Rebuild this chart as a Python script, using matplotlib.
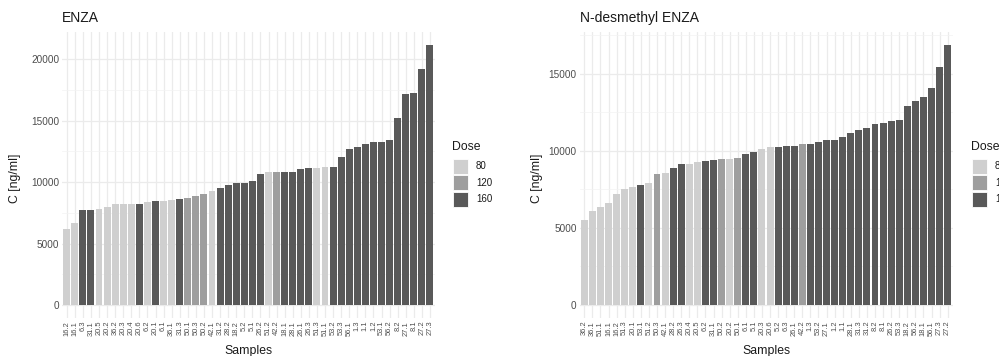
import matplotlib
matplotlib.use("Agg")
import matplotlib.pyplot as plt
from matplotlib.patches import Rectangle

plt.rcParams["font.family"] = ["Liberation Sans", "DejaVu Sans"]

# ---- data -------------------------------------------------------------
enza_samples = ["16.2", "16.1", "6.3", "31.1", "20.5", "20.2", "36.2", "20.3", "20.4", "20.6",
                "6.2", "20.1", "6.1", "36.1", "31.3", "50.1", "50.3", "50.2", "42.1", "31.2",
                "28.2", "18.2", "5.2", "5.1", "26.2", "51.2", "42.2", "18.1", "28.1", "26.1",
                "26.3", "51.3", "51.1", "53.2", "53.3", "56.1", "1.3", "1.1", "1.2", "53.1",
                "56.2", "8.2", "27.1", "8.1", "27.2", "27.3"]
enza_values = [6150, 6640, 7720, 7720, 7800, 7940, 8210, 8210, 8230, 8250,
               8400, 8450, 8480, 8540, 8590, 8720, 8860, 9020, 9270, 9480,
               9750, 9940, 9940, 10070, 10630, 10790, 10790, 10840, 10840, 11030,
               11160, 11100, 11190, 11240, 12000, 12660, 12870, 13090, 13280, 13280,
               13410, 15180, 17150, 17210, 19190, 21140]
enza_dose = [80, 80, 160, 160, 80, 80, 80, 80, 80, 160,
             80, 160, 80, 80, 160, 120, 120, 120, 80, 160,
             160, 160, 160, 160, 160, 80, 120, 160, 160, 160,
             160, 80, 80, 160, 160, 160, 160, 160, 160, 160,
             160, 160, 160, 160, 160, 160]

desm_samples = ["36.2", "36.1", "51.1", "16.1", "16.2", "51.3", "20.1", "53.1", "51.2", "50.3",
                "42.1", "28.2", "26.3", "20.4", "20.5", "6.2", "31.1", "50.2", "20.2", "50.1",
                "6.1", "5.1", "20.3", "20.6", "5.2", "6.3", "26.1", "42.2", "1.3", "53.2",
                "27.1", "1.2", "1.1", "28.1", "31.3", "31.2", "8.2", "8.1", "26.2", "53.3",
                "18.2", "56.2", "18.1", "56.1", "27.3", "27.2"]
desm_values = [5520, 6120, 6340, 6600, 7190, 7530, 7680, 7790, 7900, 8500,
               8550, 8870, 9130, 9150, 9260, 9330, 9390, 9500, 9500, 9570,
               9790, 9940, 10110, 10260, 10260, 10300, 10300, 10430, 10450, 10610,
               10710, 10710, 10890, 11150, 11340, 11520, 11730, 11840, 11970, 12000,
               12920, 13270, 13490, 14110, 15430, 16880]
desm_dose = [80, 80, 80, 80, 80, 80, 80, 160, 80, 120,
             80, 160, 160, 80, 80, 160, 160, 120, 80, 120,
             160, 160, 80, 80, 160, 160, 160, 120, 160, 160,
             160, 160, 160, 160, 160, 160, 160, 160, 160, 160,
             160, 160, 160, 160, 160, 160]

dose_levels = [80, 120, 160]
dose_colors = {80: "#CFCFCF", 120: "#9E9E9E", 160: "#595959"}

# ---- figure -----------------------------------------------------------
W, H = 999, 356
fig = plt.figure(figsize=(W / 100, H / 100), dpi=100)
fig.patch.set_facecolor("white")


def px_axes(x0, x1, y0, y1):
    return fig.add_axes([x0 / W, 1 - y1 / H, (x1 - x0) / W, (y1 - y0) / H])


def draw_panel(ax, samples, values, doses, title, yticks, label_x, legend_x):
    n = len(samples)
    xs = list(range(n))
    ax.bar(xs, values, width=0.86, color=[dose_colors[d] for d in doses],
           linewidth=0, zorder=3)
    vmax = max(values)
    ax.set_xlim(-0.6, n - 1 + 0.6)
    ax.set_ylim(-0.05 * vmax, 1.05 * vmax)
    ax.set_facecolor("white")
    for s in ax.spines.values():
        s.set_visible(False)
    ax.set_xticks(xs)
    ax.set_xticklabels(samples, rotation=90, fontsize=5.4, color="#4D4D4D")
    ax.set_yticks(yticks)
    ax.set_yticklabels([str(t) for t in yticks], fontsize=7.2, color="#4D4D4D")
    minor = [t + 2500 for t in yticks if t + 2500 < 1.05 * vmax]
    ax.set_yticks(minor, minor=True)
    ax.tick_params(axis="both", length=0, pad=2)
    ax.tick_params(axis="y", which="minor", length=0)
    ax.grid(True, axis="x", color="#EBEBEB", linewidth=0.9, zorder=0)
    ax.grid(True, axis="y", which="major", color="#EBEBEB", linewidth=0.9, zorder=0)
    ax.grid(True, axis="y", which="minor", color="#F3F3F3", linewidth=0.5, zorder=0)
    ax.set_axisbelow(True)
    ax.set_xlabel("Samples", fontsize=8.8, color="#1A1A1A", labelpad=7)
    ax.set_ylabel("C [ng/ml]", fontsize=8.8, color="#1A1A1A")
    ax.yaxis.set_label_coords(label_x, 0.5, transform=fig.transFigure)
    fig.text(ax.get_position().x0, 1 - 18 / H, title, fontsize=10,
             color="#1A1A1A", ha="left", va="center")

    # legend
    fig.text(legend_x / W, 1 - 147 / H, "Dose", fontsize=8.8, color="#1A1A1A",
             ha="left", va="center")
    for i, d in enumerate(dose_levels):
        yc = 166 + i * 16.7
        fig.add_artist(Rectangle(((legend_x + 1) / W, 1 - (yc + 7.5) / H),
                                 15 / W, 15 / H, transform=fig.transFigure,
                                 facecolor=dose_colors[d], edgecolor="white",
                                 linewidth=0.6))
        fig.text((legend_x + 24) / W, 1 - yc / H, str(d), fontsize=7,
                 color="#1A1A1A", ha="left", va="center")


ax1 = px_axes(61.9, 434.8, 32, 318)
draw_panel(ax1, enza_samples, enza_values, enza_dose, "ENZA",
           [0, 5000, 10000, 15000, 20000], 21 / W, 452)

ax2 = px_axes(579.5, 952.5, 32, 318)
draw_panel(ax2, desm_samples, desm_values, desm_dose, "N-desmethyl ENZA",
           [0, 5000, 10000, 15000], 543 / W, 971)

fig.savefig("out.png", dpi=100, facecolor="white")
